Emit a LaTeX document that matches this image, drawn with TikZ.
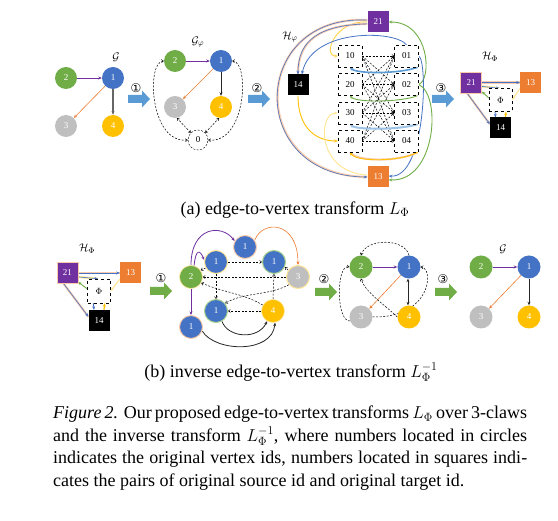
\documentclass[tikz,border=0pt]{standalone}
\usepackage{fontspec}
\setmainfont{Liberation Serif}
\newfontfamily\djv{DejaVu Sans}
\usetikzlibrary{arrows.meta,backgrounds}
\definecolor{cgreen}{HTML}{70AD47}
\definecolor{cblue}{HTML}{4472C4}
\definecolor{cgray}{HTML}{BFBFBF}
\definecolor{cyellow}{HTML}{FFC000}
\definecolor{corange}{HTML}{ED7D31}
\definecolor{cpurple}{HTML}{7030A0}
\definecolor{abl}{HTML}{5B9BD5}
\definecolor{lblue}{HTML}{9DC3E6}
\definecolor{lyel}{HTML}{FFE699}
\definecolor{lora}{HTML}{F8CBAD}
\definecolor{lgre}{HTML}{A9D18E}
\newcommand\blockarr[3]{\fill[#3] (#1,#2) ++(0,-4) -- ++(14,0) -- ++(0,-4.5) -- ++(8,8.5) -- ++(-8,8.5) -- ++(0,-4.5) -- ++(-14,0) -- cycle;}
\begin{document}
\begin{tikzpicture}[x=1pt,y=-1pt,
 vtx/.style={circle,minimum size=22pt,inner sep=0pt,text=white,font=\fontsize{9}{9}\selectfont},
 vG/.style={vtx,fill=cgreen},
 vB/.style={vtx,fill=cblue},
 vY/.style={vtx,fill=cyellow},
 vR/.style={vtx,fill=cgray},
 sq/.style={rectangle,minimum size=21pt,inner sep=0pt,text=white,font=\fontsize{9}{9}\selectfont},
 dbox/.style={rectangle,draw,dashed,fill=white,minimum width=24pt,minimum height=22pt,inner sep=0pt,font=\fontsize{9}{9}\selectfont},
 lbl/.style={font=\fontsize{11}{11}\selectfont},
 circ/.style={font=\djv\fontsize{12}{12}\selectfont},
 ar/.style={-{Stealth[length=3.5pt,width=3pt]}},
 pe/.style={draw=cpurple,line width=0.8pt,ar},
 oe/.style={draw=corange,line width=0.6pt,ar},
 ke/.style={draw=black!85,line width=0.8pt,ar},
 de/.style={draw=black,dashed,dash pattern=on 2pt off 1.5pt,line width=0.5pt,-{Straight Barb[length=2pt,width=3pt]}},
 dde/.style={draw=black,dashed,dash pattern=on 2pt off 1.5pt,line width=0.5pt,{Straight Barb[length=2pt,width=3pt]}-{Straight Barb[length=2pt,width=3pt]}},
 ob/.style={draw=cblue,line width=0.6pt,ar,preaction={draw=lora,line width=2.2pt,-}},
 yb/.style={draw=cblue,line width=0.6pt,ar,preaction={draw=lyel,line width=2.2pt,-}},
 ye/.style={draw=cyellow,line width=0.9pt,ar},
 ge/.style={draw=cgreen,line width=0.9pt,ar},
 be/.style={draw=cblue,line width=0.8pt,ar},
 lbe/.style={draw=lblue,line width=2pt,ar},
 txt/.style={font=\fontsize{18}{22.4}\selectfont}
]
\useasboundingbox (0,0) rectangle (558,521);

% ---------- panel (a): G
\node[lbl] (gl) at (116,57) {$\mathcal{G}$};
\node[vG] (a2) at (66,78) {2};
\node[vB] (a1) at (113,78) {1};
\node[vR] (a3) at (66,126) {3};
\node[vY] (a4) at (113,126) {4};
\draw[pe] (a2) -- (a1);
\draw[oe] (a1) -- (a3);
\draw[draw=black!60,line width=1.3pt,ar] (a1) -- (a4);

\blockarr{128}{99}{abl}
\node[circ] (c1a) at (136,88) {①};

% ---------- G_phi
\node[lbl] (gpl) at (198,42) {$\mathcal{G}_\varphi$};
\node[vG] (b2) at (175,61) {2};
\node[vB] (b1) at (221,61) {1};
\node[vR] (b3) at (175,107) {3};
\node[vY] (b4) at (221,107) {4};
\node[circle,draw,dashed,dash pattern=on 2pt off 1.5pt,minimum size=20pt,inner sep=0pt,font=\fontsize{9}{9}\selectfont] (b0) at (198,140) {0};
\draw[pe] (b2) -- (b1);
\draw[oe] (b1) -- (b3);
\draw[ke] (b1) -- (b4);
\draw[dde] (b0.135) .. controls (184,126) .. (b3.-80);
\draw[dde] (b0.45) .. controls (212,126) .. (b4.-100);
\draw[dde] (b0.west) .. controls (150,144) and (146,62) .. (b2.west);
\draw[dde] (b0.east) .. controls (246,144) and (250,62) .. (b1.east);

\blockarr{248}{99}{abl}
\node[circ] (c2a) at (257,88) {②};

% ---------- H_phi
\node[lbl] (hpl) at (290,37) {$\mathcal{H}_\varphi$};
\node[sq,fill=cpurple] (s21) at (378,22) {21};
\node[sq,fill=black] (s14) at (298,85) {14};
\node[sq,fill=corange] (s13) at (378,177) {13};
\foreach \i/\y in {1/56,2/84.5,3/113,4/141}{
  \node[dbox] (L\i) at (350,\y) {\i0};
  \node[dbox] (R\i) at (406.5,\y) {0\i};
}
\begin{pgfonlayer}{background}
\foreach \i in {1,...,4}{\foreach \j in {1,...,4}{
  \draw[de] (L\i.east) -- (R\j.west);
}}
\draw[draw=cyellow!70,line width=0.9pt,ar] (s21.west) .. controls (335,20) and (322,56) .. (L1.west);
\draw[ob] (s21.-170) .. controls (320,25) and (298,40) .. (s14.north);
\draw[be] (R1.north) .. controls (395,30) and (312,28) .. (s14.70);
\draw[ob] (s21.170) .. controls (250,14) and (245,176) .. (s13.west);
\draw[ge] (R2.east) .. controls (432,80) and (430,22) .. (s21.east);
\draw[be] (R1.east) .. controls (428,60) and (426,178) .. (s13.5);
\draw[ge] (R2.east) .. controls (442,95) and (436,182) .. (s13.-15);
\draw[ye] (s14.south) .. controls (298,130) and (318,141) .. (L4.west);
\draw[draw=lyel,line width=1pt,ar] (s13.170) .. controls (316,172) and (318,113) .. (L3.west);
\draw[draw=abl,line width=1.6pt,ar] (R1.-45) .. controls (400,74) and (356,74) .. (L1.south);
\draw[ge] (R2.-45) .. controls (400,102.5) and (356,102.5) .. (L2.south);
\draw[lbe] (R3.-45) .. controls (400,130) and (356,130) .. (L3.south);
\draw[draw=cyellow,line width=0.9pt,ar,preaction={draw=lora,line width=2pt,-}] (R4.-45) .. controls (400,162) and (356,162) .. (L4.south);
\end{pgfonlayer}

\blockarr{432}{99}{abl}
\node[circ] (c3a) at (441,88) {③};

% ---------- H_Phi (a)
\node[lbl] (hPl) at (490,57) {$\mathcal{H}_\Phi$};
\node[sq,fill=cpurple,draw=lora] (t21) at (471,82.5) {21};
\node[sq,fill=corange] (t13) at (530.5,82.5) {13};
\node[sq,fill=black] (t14) at (500.5,128) {14};
\node[dbox,minimum width=23pt,minimum height=23pt] (tP) at (500.5,100) {$\Phi$};
\begin{pgfonlayer}{background}
\draw[ob] (t21.east) -- (t13.west);
\draw[yb] (t21.-20) -- (tP.95);
\draw[draw=lyel,line width=1.2pt,ar] (t13.-150) -- (tP.east);
\draw[ge] (tP.170) -- (t21.-40);
\draw[ob] (t21.-110) -- (t14.160);
\draw[be] (tP.-115) -- (t14.115);
\draw[draw=cyellow,line width=1.2pt,ar] (t14.65) -- (tP.-65);
\end{pgfonlayer}

\node[txt] (capa) at (295,210) {(a) edge-to-vertex transform $L_\Phi$};

% ---------- panel (b): H_Phi
\node[lbl] (hPl2) at (87,249) {$\mathcal{H}_\Phi$};
\node[sq,fill=cpurple,draw=lora] (u21) at (67.5,273) {21};
\node[sq,fill=corange] (u13) at (130.5,273) {13};
\node[sq,fill=black] (u14) at (99,320.5) {14};
\node[dbox,minimum width=23pt,minimum height=24pt] (uP) at (99,291) {$\Phi$};
\begin{pgfonlayer}{background}
\draw[ob] (u21.east) -- (u13.west);
\draw[yb] (u21.-20) -- (uP.95);
\draw[draw=lyel,line width=1.2pt,ar] (u13.-150) -- (uP.east);
\draw[ge] (uP.170) -- (u21.-40);
\draw[ob] (u21.-110) -- (u14.160);
\draw[be] (uP.-115) -- (u14.115);
\draw[draw=cyellow,line width=1.2pt,ar] (u14.65) -- (uP.-65);
\end{pgfonlayer}

\blockarr{150}{291}{cgreen}
\node[circ] (c1b) at (161,278) {①};

% ---------- middle graph
\tikzset{vtx/.append style={minimum size=23pt}}
\node[vB,draw=lora,line width=1pt] (m1t) at (245,247) {1};
\node[vB,draw=lyel,line width=1pt] (m1a) at (216,262) {1};
\node[vB,draw=lgre,line width=1pt] (m1b) at (274,262) {1};
\node[vG,draw=lyel,line width=0.6pt] (m2) at (191,277) {2};
\node[vR,draw=lyel,line width=1pt] (m3) at (298,277) {3};
\node[vB,draw=lgre,line width=1pt] (m1c) at (216,311) {1};
\node[vY,draw=lyel,line width=0.6pt] (m4) at (273,311) {4};
\node[vB,draw=lora,line width=1pt] (m1d) at (191,327) {1};
\begin{pgfonlayer}{background}
\draw[pe] (m2.north) .. controls (191,226) and (222,224) .. (m1t.150);
\draw[pe] (m2.75) .. controls (196,248) and (200,250) .. (m1a.170);
\draw[pe] (m2.south) -- (m1d.north);
\draw[oe] (m1t.35) .. controls (262,220) and (298,220) .. (m3.north);
\draw[de] (m1a.east) -- (m1b.west);
\draw[de] (m1a.-150) -- (m2.35);
\draw[de] (m1a.south) -- (m1c.north);
\draw[de] (m3.west) -- (m2.east);
\draw[de] (m3.145) -- (m1b.-25);
\draw[de] (m3.-140) .. controls (268,296) and (244,292) .. (m1c.40);
\draw[de] (m4.150) .. controls (245,294) and (222,292) .. (m2.-30);
\draw[de] (m4.north) -- (m1b.south);
\draw[de] (m4.west) -- (m1c.east);
\draw[ke] (m1c.-60) .. controls (228,338) and (258,340) .. (m4.-120);
\draw[ke] (m1d.-20) .. controls (215,352) and (272,354) .. (m4.-80);
\end{pgfonlayer}

\blockarr{315}{292}{cgreen}
\node[circ] (c2b) at (324,279) {②};

% ---------- graph after 2
\node[vG] (n2) at (361,267) {2};
\node[vB] (n1) at (409,267) {1};
\node[vR] (n3) at (361,317) {3};
\node[vY] (n4) at (409,317) {4};
\begin{pgfonlayer}{background}
\draw[pe] (n2) -- (n1);
\draw[oe] (n1.-135) -- (n3.45);
\draw[draw=black!85,line width=0.8pt,{Stealth[length=3.5pt,width=3pt]}-{Stealth[length=3.5pt,width=3pt]}] (n1.-95) -- (n4.95);
\draw[de] (n1.north) .. controls (405,238) and (366,238) .. (n2.north);
\draw[de] (n3.-160) .. controls (336,322) and (336,264) .. (n2.west);
\draw[de] (n3.east) .. controls (432,318) and (434,268) .. (n1.east);
\draw[de] (n4.west) .. controls (385,305) and (365,292) .. (n2.south);
\end{pgfonlayer}

\blockarr{435}{292}{cgreen}
\node[circ] (c3b) at (443,279) {③};

% ---------- final G
\node[lbl] (gl2) at (503,249) {$\mathcal{G}$};
\node[vG] (f2) at (481,267) {2};
\node[vB] (f1) at (529,267) {1};
\node[vR] (f3) at (481,317) {3};
\node[vY] (f4) at (529,317) {4};
\draw[pe] (f2) -- (f1);
\draw[oe] (f1) -- (f3);
\draw[ke] (f1) -- (f4);

\node[txt] (capb) at (291,372) {(b) inverse edge-to-vertex transform $L_\Phi^{-1}$};

% ---------- caption
\node[txt,anchor=north west,text width=474pt,align=justify,inner sep=0pt] (cap) at (53,406)
{\textit{Figure 2.} Our proposed edge-to-vertex transforms $L_\Phi$ over 3-claws\linebreak
and the inverse transform $L_\Phi^{-1}$, where numbers located in circles\linebreak
indicates the original vertex ids, numbers located in squares indi-\linebreak
cates the pairs of original source id and original target id.};
\end{tikzpicture}
\end{document}
